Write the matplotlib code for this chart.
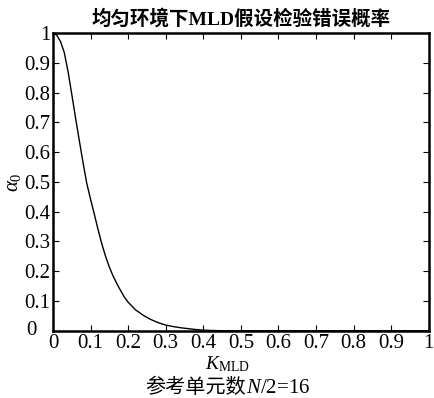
import matplotlib
matplotlib.use("Agg")
import matplotlib.pyplot as plt
from matplotlib.transforms import ScaledTranslation

plt.rcParams['font.family'] = ['Liberation Serif', 'Noto Sans CJK SC']
plt.rcParams['mathtext.fontset'] = 'custom'
plt.rcParams['mathtext.rm'] = 'Liberation Serif'
plt.rcParams['mathtext.it'] = 'Liberation Serif:italic'

# values
k_mld = [0, 0.01, 0.02, 0.03, 0.04, 0.05, 0.06, 0.07, 0.08, 0.09, 0.10,
         0.11, 0.12, 0.13, 0.14, 0.15, 0.16, 0.17, 0.18, 0.19, 0.20,
         0.22, 0.24, 0.26, 0.28, 0.30, 0.32, 0.34, 0.36, 0.38, 0.40,
         0.42, 0.45, 0.5, 0.6, 0.7, 0.8, 0.9, 1.0]
alpha0 = [1.0, 0.993, 0.972, 0.935, 0.872, 0.795, 0.716, 0.640, 0.565, 0.495, 0.442,
          0.392, 0.340, 0.292, 0.250, 0.214, 0.184, 0.158, 0.135, 0.113, 0.096,
          0.070, 0.052, 0.038, 0.027, 0.019, 0.014, 0.010, 0.007, 0.004, 0.002,
          0.001, 0.0, 0, 0, 0, 0, 0, 0]

xticks = [0, 0.1, 0.2, 0.3, 0.4, 0.5, 0.6, 0.7, 0.8, 0.9, 1]
xtick_labels = ['0', '0.1', '0.2', '0.3', '0.4', '0.5', '0.6', '0.7', '0.8', '0.9', '1']
yticks = [0, 0.1, 0.2, 0.3, 0.4, 0.5, 0.6, 0.7, 0.8, 0.9, 1]
ytick_labels = ['0', '0.1', '0.2', '0.3', '0.4', '0.5', '0.6', '0.7', '0.8', '0.9', '1']

fig = plt.figure(figsize=(4.34, 3.98), dpi=100)
ax = fig.add_axes([0.122, 0.169, 0.866, 0.748])

ax.plot(k_mld, alpha0, color='black', lw=1.0)
ax.set_xlim(0, 1)
ax.set_ylim(0, 1)
ax.set_xticks(xticks)
ax.set_xticklabels(xtick_labels)
ax.set_yticks(yticks)
ax.set_yticklabels(ytick_labels)
ax.tick_params(direction='in', length=4, width=0.8, top=True, right=True,
               labelsize=15, pad=2)
for sp in ax.spines.values():
    sp.set_linewidth(1.8)

# the y "0" sits further left and a bit higher, out of the way of the x "0"
lab0 = ax.get_yticklabels()[0]
lab0.set_transform(lab0.get_transform() + ScaledTranslation(-0.14, 0.03, fig.dpi_scale_trans))

ax.set_title('均匀环境下MLD假设检验错误概率', fontsize=14, fontweight='bold', pad=6)
ax.set_ylabel(r'$\alpha_0$', fontsize=15, labelpad=1)
ax.set_xlabel(r'$K_{\mathrm{MLD}}$', fontsize=14)
ax.xaxis.set_label_coords(0.465, -0.08, transform=ax.transAxes)
ax.xaxis.label.set_va('top')

t1 = fig.text(0.567, 0.013, '参考单元数', fontsize=14.5, ha='right', va='baseline',
              family=['Noto Sans CJK SC'])
ax.annotate(r'$N$/2=16', xy=(1, 0), xycoords=t1, va='bottom', ha='left',
            fontsize=15)

fig.savefig('out.png', dpi=100)
